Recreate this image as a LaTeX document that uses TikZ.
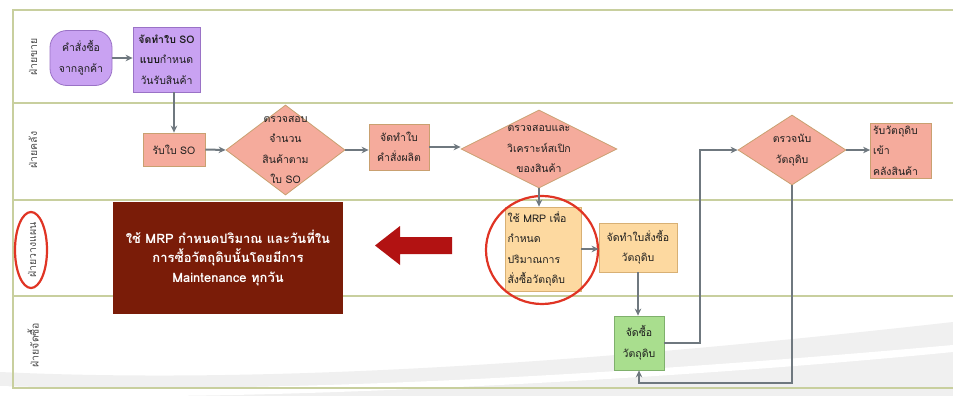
\documentclass[tikz,border=0pt]{standalone}
\usepackage{fontspec}
\newfontfamily\thai[Script=Thai]{Loma}
\usetikzlibrary{shapes.geometric,arrows.meta,calc}
\definecolor{laneC}{HTML}{C8CF9E}
\definecolor{purpF}{HTML}{C9A2F2}
\definecolor{purpB}{HTML}{9A72C6}
\definecolor{salF}{HTML}{F5AB9C}
\definecolor{salB}{HTML}{C9A070}
\definecolor{orgF}{HTML}{FDD9A0}
\definecolor{orgB}{HTML}{D8B074}
\definecolor{grnF}{HTML}{A9DE8E}
\definecolor{grnB}{HTML}{7FB06C}
\definecolor{arrC}{HTML}{6F787F}
\definecolor{darkRed}{HTML}{7A1C08}
\definecolor{blockRed}{HTML}{B21212}
\definecolor{ringRed}{HTML}{E03424}
\definecolor{txtC}{HTML}{1E1E1E}
\tikzset{
  txt/.style={font=\thai\fontsize{10.5}{20.5}\selectfont, text=txtC, align=center},
  lanelabel/.style={font=\thai\fontsize{10.5}{12}\selectfont, text=black!70, rotate=90},
  lane/.style={draw=laneC, line width=1.5pt},
  purplebox/.style={txt, draw=purpB, fill=purpF, line width=0.8pt, inner sep=0pt},
  salbox/.style={txt, draw=salB, fill=salF, line width=0.8pt, inner sep=0pt},
  orgbox/.style={txt, draw=orgB, fill=orgF, line width=0.8pt, inner sep=0pt},
  grnbox/.style={txt, draw=grnB, fill=grnF, line width=0.8pt, inner sep=0pt},
  dia/.style={diamond, draw=salB, fill=salF, line width=0.8pt, inner sep=0pt},
  arr/.style={draw=arrC, line width=2pt, -{Stealth[length=7pt,width=6.5pt]}},
  ring/.style={draw=ringRed, line width=2.2pt},
}
\begin{document}
\begin{tikzpicture}[x=1pt,y=-1pt]
\useasboundingbox (0,0) rectangle (953,396);
\fill[white] (0,0) rectangle (953,396);
% slide background swoosh
\fill[black!6] (0,396) -- (0,372) .. controls (300,386) and (650,356) .. (953,322) -- (953,396) -- cycle;
\fill[white] (0,386) .. controls (300,395) and (650,372) .. (953,345) -- (953,352) .. controls (650,382) and (300,396) .. (150,396) -- (0,396) -- cycle;
% lanes
\draw[lane] (953,10) -- (13,10) -- (13,388) -- (953,388);
\draw[lane] (13,103) -- (953,103);
\draw[lane] (13,200) -- (953,200);
\draw[lane] (13,296) -- (953,296);
\node[lanelabel] (l1) at (33,57) {ฝ่ายขาย};
\node[lanelabel] (l2) at (33,150) {ฝ่ายคลัง};
\node[lanelabel] (l3) at (32,250) {ฝ่ายวางแผน};
\node[lanelabel] (l4) at (33,345) {ฝ่ายจัดซื้อ};
\draw[ring] (31,250) ellipse [x radius=16, y radius=38];

% sales lane
\node[purplebox, rounded corners=17pt, minimum width=62, minimum height=55] (p1) at (81,58) {คำสั่งซื้อ\\จากลูกค้า};
\node[purplebox, minimum width=67, minimum height=65] (p2) at (166.5,59.5) {\textbf{จัดทำใบ SO}\\\textbf{แบบ}กำหนด\\วันรับสินค้า};

% warehouse lane
\node[salbox, minimum width=62, minimum height=33] (r1) at (174,149.5) {รับใบ SO};
\node[dia, minimum width=119, minimum height=90] (d1) at (285.5,150) {};
\node[txt] (d1t) at (d1) {ตรวจสอบ\\จำนวน\\สินค้าตาม\\ใบ SO};
\node[salbox, minimum width=60, minimum height=46] (r2) at (399,147) {จัดทำใบ\\คำสั่งผลิต};
\node[dia, minimum width=156, minimum height=78] (d2) at (539,149) {};
\node[txt] (d2t) at (d2) {ตรวจสอบและ\\วิเคราะห์สเปิก\\ของสินค้า};
\node[dia, minimum width=108, minimum height=70] (d3) at (792,150) {};
\node[txt] (d3t) at (d3) {ตรวจนับ\\วัตถุดิบ};
\node[salbox, minimum width=61, minimum height=55, text width=56, align=left] (r3) at (901,150.5) {รับวัตถุดิบ\\เข้า\\คลังสินค้า};

% planning lane
\node[fill=darkRed, minimum width=230, minimum height=112, inner sep=0pt,
      font=\thai\bfseries\fontsize{13}{19.5}\selectfont, text=white, align=center] (big) at (228,258)
  {ใช้ MRP กำหนดปริมาณ และวันที่ใน\\การซื้อวัตถุดิบนั้นโดยมีการ\\Maintenance ทุกวัน};
\fill[blockRed] (452,237) -- (400,237) -- (400,226) -- (375,245.5) -- (400,265) -- (400,254) -- (452,254) -- cycle;
\node[orgbox, minimum width=76, minimum height=84, text width=71, align=left] (m1) at (543,249) {ใช้ MRP เพื่อ\\กำหนด\\ปริมาณการ\\สั่งซื้อวัตถุดิบ};
\node[orgbox, minimum width=78, minimum height=49] (m2) at (638,247.5) {จัดทำใบสั่งซื้อ\\วัตถุดิบ};
\draw[ring] (542,250) ellipse [x radius=56, y radius=54];

% purchasing lane
\node[grnbox, minimum width=50, minimum height=54] (g1) at (639,343) {จัดซื้อ\\วัตถุดิบ};

% helper coordinates
\coordinate (j1) at (700,0);
\coordinate (j2) at (0,383);

% connectors
\draw[arr] (p1.east) -- (p2.west |- p1.east);
\draw[arr] (p2.south -| r1.north) -- (r1.north);
\draw[arr] (r1.east) -- (d1.west);
\draw[arr] (d1.east) -- (r2.west |- d1.east);
\draw[arr] (r2.east) -- (d2.west |- r2.east);
\draw[arr] (d2.south) -- (d2.south |- m1.north);
\draw[arr] (m1.east) -- (m2.west |- m1.east);
\draw[arr] (m2.south) -- (m2.south |- g1.north);
\draw[arr] (g1.east) -| (j1 |- d3.west) -- (d3.west);
\draw[arr] (d3.south) -- (d3.south |- j2) -| (g1.south);
\draw[arr] (d3.east) -- (r3.west |- d3.east);
\end{tikzpicture}
\end{document}
